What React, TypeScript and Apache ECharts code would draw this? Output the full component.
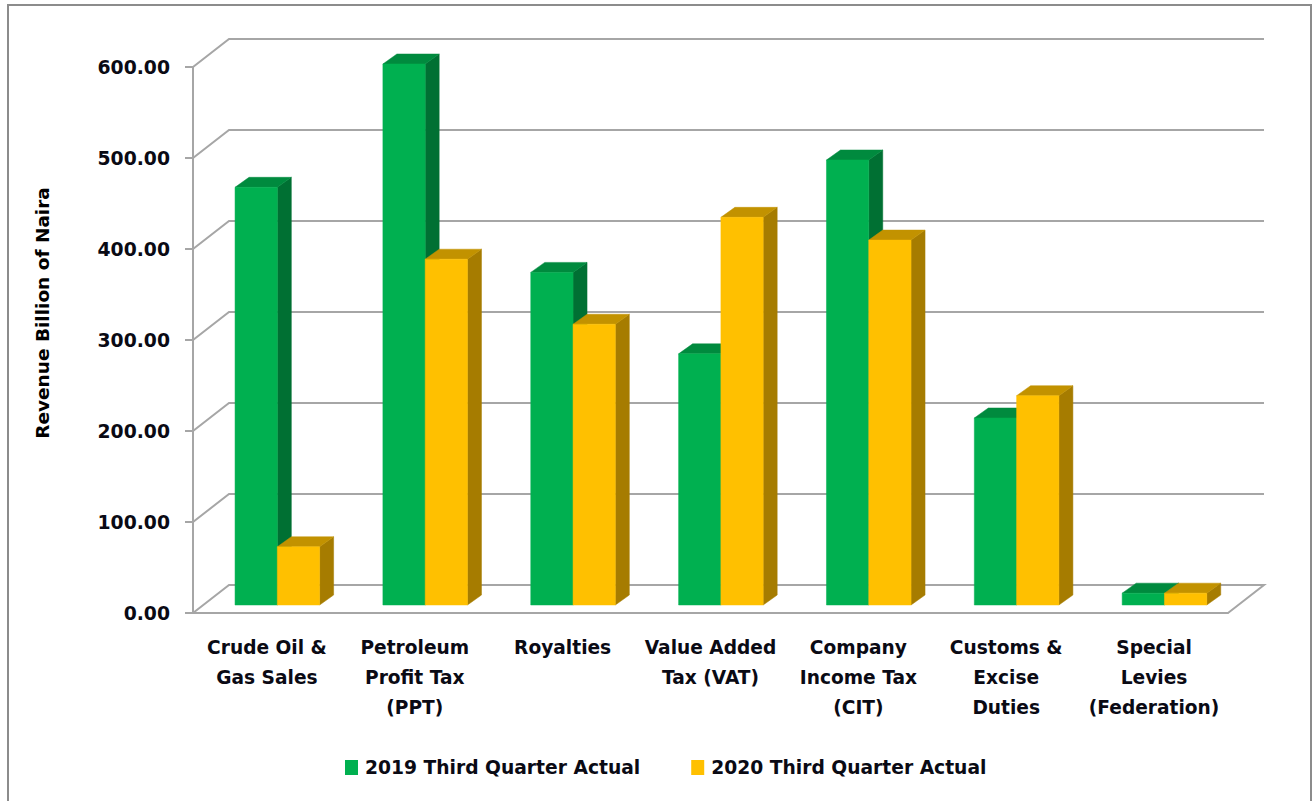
import React, { useEffect, useRef } from "react";
import * as echarts from "echarts";

const categories = [
  "Crude Oil &\nGas Sales",
  "Petroleum\nProfit Tax\n(PPT)",
  "Royalties",
  "Value Added\nTax (VAT)",
  "Company\nIncome Tax\n(CIT)",
  "Customs &\nExcise\nDuties",
  "Special\nLevies\n(Federation)",
];
const values2019 = [459, 594.5, 365.5, 276, 489, 205.5, 13];
const values2020 = [64, 380, 308.5, 426, 401, 230, 13];
const valueTicks = [0, 100, 200, 300, 400, 500, 600];
const seriesNames = ["2019 Third Quarter Actual", "2020 Third Quarter Actual"];

const FONT = "'DejaVu Sans'";
const GRID = "#a6a6a6";
const WALL_DX = 36;
const WALL_DY = -28;
const BAR_DX = 10.4;
const BAR_DY = -8;
const DEPTH_DX = 14;
const DEPTH_DY = -10;
const BAR_RATIO = 42.3 / 147.9;

const palettes = [
  { front: "#00B050", top: "#008A3E", side: "#007033" },
  { front: "#FFC000", top: "#C29200", side: "#A67C00" },
];

function poly(points: number[][], fill: string) {
  return { type: "polygon", shape: { points }, style: { fill, stroke: fill, lineWidth: 0.5 } };
}

function barRenderer(index: number) {
  return (_params: any, api: any) => {
    const cat = api.value(0);
    const val = api.value(1);
    const top = api.coord([cat, val]);
    const base = api.coord([cat, 0]);
    const w = api.size([1, 0])[0] * BAR_RATIO;
    const x0 = base[0] + BAR_DX + (index === 0 ? -w : 0);
    const x1 = x0 + w;
    const yB = base[1] + BAR_DY;
    const yT = top[1] + BAR_DY;
    const c = palettes[index];
    return {
      type: "group",
      children: [
        poly([[x1, yB], [x1 + DEPTH_DX, yB + DEPTH_DY], [x1 + DEPTH_DX, yT + DEPTH_DY], [x1, yT]], c.side),
        poly([[x0, yT], [x0 + DEPTH_DX, yT + DEPTH_DY], [x1 + DEPTH_DX, yT + DEPTH_DY], [x1, yT]], c.top),
        poly([[x0, yB], [x1, yB], [x1, yT], [x0, yT]], c.front),
      ],
    };
  };
}

function wallRenderer(params: any, api: any) {
  const v = api.value(0);
  const left = params.coordSys.x;
  const right = left + params.coordSys.width;
  const y = api.coord([0, v])[1];
  const style = { stroke: GRID, lineWidth: 2, fill: "none" };
  const points: number[][] = [[left, y], [left + WALL_DX, y + WALL_DY], [right + WALL_DX, y + WALL_DY]];
  if (v === 0) points.push([right, y]);
  return { type: "polyline", shape: { points }, style };
}

export default function App() {
  const ref = useRef<HTMLDivElement>(null);
  useEffect(() => {
    const chart = echarts.init(ref.current!, undefined, { renderer: "svg" });
    chart.setOption({
      animation: false,
      backgroundColor: "#ffffff",
      textStyle: { fontFamily: FONT },
      grid: { left: 193, top: 67, right: 85, bottom: 188, containLabel: false },
      legend: {
        data: seriesNames,
        left: 345,
        top: 758,
        padding: 0,
        itemWidth: 13,
        itemHeight: 15,
        itemGap: 51,
        icon: "rect",
        textStyle: { fontFamily: FONT, fontWeight: "bold", fontSize: 18.7, color: "#0a0a14", padding: [0, 0, 0, 2] },
      },
      graphic: [
        {
          type: "rect",
          shape: { x: 8, y: 5, width: 1303, height: 820 },
          style: { fill: "none", stroke: "#8c8c8c", lineWidth: 2 },
          silent: true,
        },
      ],
      xAxis: {
        type: "category",
        data: categories,
        axisLine: { show: true, lineStyle: { color: GRID, width: 2 } },
        axisTick: { show: false },
        axisLabel: {
          interval: 0,
          margin: 19,
          lineHeight: 30,
          fontFamily: FONT,
          fontWeight: "bold",
          fontSize: 18.6,
          color: "#0a0a14",
        },
      },
      yAxis: {
        type: "value",
        min: 0,
        max: 600,
        interval: 100,
        name: "Revenue Billion of Naira",
        nameLocation: "middle",
        nameRotate: 90,
        nameGap: 141,
        nameTextStyle: {
          fontFamily: FONT,
          fontWeight: "bold",
          fontSize: 18.5,
          color: "#000000",
          padding: [0, 0, 0, 54],
        },
        splitLine: { show: false },
        axisLine: { show: true, lineStyle: { color: GRID, width: 2 } },
        axisTick: { show: true, length: 8, lineStyle: { color: GRID, width: 2 } },
        axisLabel: {
          margin: 23,
          fontFamily: FONT,
          fontWeight: "bold",
          fontSize: 18.8,
          color: "#0a0a14",
          formatter: (v: number) => v.toFixed(2),
        },
      },
      series: [
        {
          type: "custom",
          silent: true,
          clip: false,
          z: 1,
          data: valueTicks.map((v) => [v]),
          encode: { y: 0 },
          renderItem: wallRenderer,
        },
        ...[values2019, values2020].map((vals, i) => ({
          type: "custom",
          name: seriesNames[i],
          clip: false,
          z: 2 + i,
          itemStyle: { color: palettes[i].front },
          data: vals.map((v, c) => [c, v]),
          encode: { x: 0, y: 1 },
          renderItem: barRenderer(i),
        })),
      ],
    });
    return () => chart.dispose();
  }, []);
  return <div ref={ref} style={{ position: "fixed", left: 0, top: 0, width: 1313, height: 801 }} />;
}
